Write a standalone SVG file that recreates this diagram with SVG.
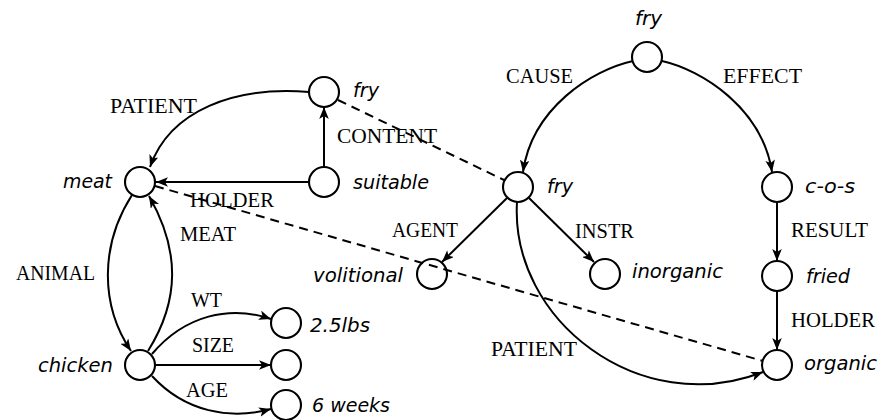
<svg xmlns="http://www.w3.org/2000/svg" width="880" height="420" viewBox="0 0 880 420">
<style>
.n{fill:#fff;stroke:#000;stroke-width:2.1}
.t{font-family:"DejaVu Sans","Liberation Sans",sans-serif;font-style:italic;font-size:19.3px;fill:#000}
.l{font-family:"Liberation Serif","DejaVu Serif",serif;font-size:20px;fill:#000}
.e{fill:none;stroke:#000;stroke-width:2}
.a{marker-end:url(#ah)}
.d{stroke-dasharray:9,6}
</style>
<defs>
<marker id="ah" viewBox="0 0 10 8" refX="10" refY="4" markerWidth="12" markerHeight="9.6" orient="auto" markerUnits="userSpaceOnUse">
<path d="M0,0 L10,4 L0,8 L2.5,4 z" fill="#000"/>
</marker>
</defs>
<rect width="880" height="420" fill="#fff"/>
<g id="nodes">
<g id="fry-top"><circle class="n" cx="647" cy="57" r="15"/><text class="t" x="635" y="25" textLength="27" lengthAdjust="spacingAndGlyphs">fry</text></g>
<g id="fry-left"><circle class="n" cx="324" cy="92" r="15"/><text class="t" x="353" y="97" textLength="26" lengthAdjust="spacingAndGlyphs">fry</text></g>
<g id="suitable"><circle class="n" cx="324" cy="182" r="15"/><text class="t" x="353" y="189" textLength="76" lengthAdjust="spacingAndGlyphs">suitable</text></g>
<g id="meat"><circle class="n" cx="140" cy="182" r="15"/><text class="t" x="63" y="188" textLength="49" lengthAdjust="spacingAndGlyphs">meat</text></g>
<g id="chicken"><circle class="n" cx="140" cy="365" r="15"/><text class="t" x="38" y="372" textLength="75" lengthAdjust="spacingAndGlyphs">chicken</text></g>
<g id="lbs"><circle class="n" cx="286" cy="323" r="15"/><text class="t" x="310" y="332" textLength="60" lengthAdjust="spacingAndGlyphs">2.5lbs</text></g>
<g id="size-val"><circle class="n" cx="286" cy="365" r="15"/></g>
<g id="weeks"><circle class="n" cx="286" cy="405" r="15"/><text class="t" x="312" y="412" textLength="78" lengthAdjust="spacingAndGlyphs">6 weeks</text></g>
<g id="fry-mid"><circle class="n" cx="518" cy="187" r="15"/><text class="t" x="547" y="193" textLength="26" lengthAdjust="spacingAndGlyphs">fry</text></g>
<g id="volitional"><circle class="n" cx="432" cy="274" r="15"/><text class="t" x="313" y="282" textLength="90" lengthAdjust="spacingAndGlyphs">volitional</text></g>
<g id="inorganic"><circle class="n" cx="605" cy="274" r="15"/><text class="t" x="632" y="278" textLength="91" lengthAdjust="spacingAndGlyphs">inorganic</text></g>
<g id="cos"><circle class="n" cx="777" cy="187" r="15"/><text class="t" x="805" y="193" textLength="50" lengthAdjust="spacingAndGlyphs">c-o-s</text></g>
<g id="fried"><circle class="n" cx="777" cy="276" r="15"/><text class="t" x="806" y="283" textLength="44" lengthAdjust="spacingAndGlyphs">fried</text></g>
<g id="organic"><circle class="n" cx="777" cy="365" r="15"/><text class="t" x="804" y="370" textLength="73" lengthAdjust="spacingAndGlyphs">organic</text></g>
</g>
<g id="connectors">
<path class="e a" d="M309,92 C235,86 170,110 150,167"/>
<path class="e a" d="M309,182 L156,182"/>
<path class="e a" d="M324,167 L324,107"/>
<path class="e d" d="M338,100 L504,180"/>
<path class="e d" d="M155,186 L763,361"/>
<path class="e a" d="M132,195 C100,245 100,305 131,351"/>
<path class="e a" d="M148,351 C180,300 180,250 149,196"/>
<path class="e a" d="M152,354 C185,315 230,305 271,319"/>
<path class="e a" d="M155,365 L271,365"/>
<path class="e a" d="M152,376 C185,412 230,420 271,409"/>
<path class="e a" d="M633,61 C592,70 532,108 523,172"/>
<path class="e a" d="M662,61 C702,70 762,108 772,172"/>
<path class="e a" d="M507,198 L442,262"/>
<path class="e a" d="M529,198 L594,262"/>
<path class="e a" d="M517,202 C510,320 640,420 763,372"/>
<path class="e a" d="M777,202 L777,261"/>
<path class="e a" d="M777,291 L777,350"/>
</g>
<g id="edge-labels">
<text class="l" x="110" y="113" textLength="87" lengthAdjust="spacingAndGlyphs">PATIENT</text>
<text class="l" x="190" y="207" textLength="84" lengthAdjust="spacingAndGlyphs">HOLDER</text>
<text class="l" x="337" y="143" textLength="100" lengthAdjust="spacingAndGlyphs">CONTENT</text>
<text class="l" x="180" y="241" textLength="56" lengthAdjust="spacingAndGlyphs">MEAT</text>
<text class="l" x="16" y="280" textLength="79" lengthAdjust="spacingAndGlyphs">ANIMAL</text>
<text class="l" x="191" y="307" textLength="31" lengthAdjust="spacingAndGlyphs">WT</text>
<text class="l" x="192" y="352" textLength="42" lengthAdjust="spacingAndGlyphs">SIZE</text>
<text class="l" x="186" y="397" textLength="42" lengthAdjust="spacingAndGlyphs">AGE</text>
<text class="l" x="506" y="83" textLength="67" lengthAdjust="spacingAndGlyphs">CAUSE</text>
<text class="l" x="723" y="83" textLength="79" lengthAdjust="spacingAndGlyphs">EFFECT</text>
<text class="l" x="392" y="237" textLength="66" lengthAdjust="spacingAndGlyphs">AGENT</text>
<text class="l" x="575" y="238" textLength="59" lengthAdjust="spacingAndGlyphs">INSTR</text>
<text class="l" x="491" y="356" textLength="86" lengthAdjust="spacingAndGlyphs">PATIENT</text>
<text class="l" x="791" y="237" textLength="77" lengthAdjust="spacingAndGlyphs">RESULT</text>
<text class="l" x="791" y="327" textLength="84" lengthAdjust="spacingAndGlyphs">HOLDER</text>
</g>
</svg>
